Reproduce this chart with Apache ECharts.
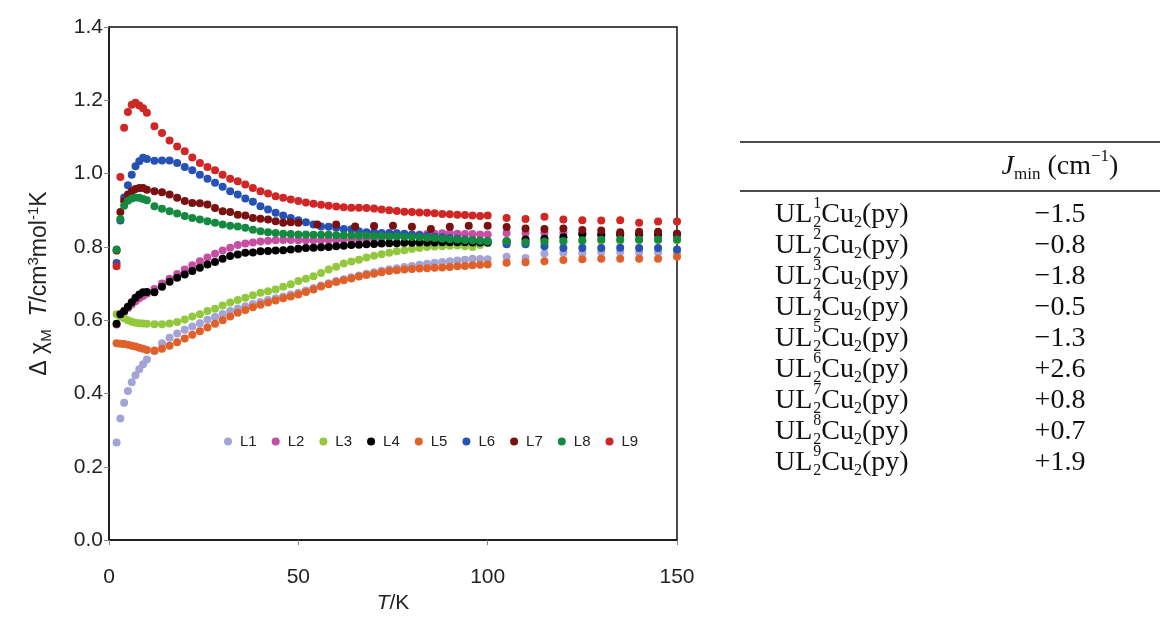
<!DOCTYPE html>
<html><head><meta charset="utf-8">
<script src="https://cdn.jsdelivr.net/npm/echarts@6/dist/echarts.min.js"></script>
<style>html,body{margin:0;padding:0;background:#fff}#c{width:1160px;height:619px}</style>
</head><body><div id="c"></div>
<script>
// Temperatures (K)
const temps = [2,3,4,5,6,7,8,9,10,
  12,14,16,18,20,22,24,26,28,30,
  32,34,36,38,40,42,44,46,48,50,
  52,54,56,58,60,62,64,66,68,70,
  72,74,76,78,80,82,84,86,88,90,
  92,94,96,98,100,
  105,110,115,120,125,130,135,140,145,150];
const temps7 = [2,3,4,5,6,7,8,9,10,
  12,14,16,18,20,22,24,26,28,30,
  32,34,36,38,40,42,44,46,48,50,
  55,60,65,70,75,80,85,90,95,100,
  105,110,115,120,125,130,135,140,145,150];

const L1 = [0.266,0.332,0.375,0.407,0.431,0.450,0.466,0.480,0.493,
  0.515,0.537,0.552,0.564,0.574,0.583,0.592,0.601,0.609,0.617,
  0.625,0.632,0.638,0.644,0.650,0.655,0.660,0.665,0.670,0.675,
  0.681,0.688,0.695,0.701,0.707,0.712,0.717,0.722,0.727,0.731,
  0.735,0.739,0.742,0.745,0.748,0.751,0.754,0.757,0.759,0.761,
  0.763,0.765,0.768,0.767,0.766,
  0.773,0.770,0.782,0.784,0.783,0.786,0.786,0.785,0.785,0.785];
const L2 = [0.588,0.614,0.622,0.633,0.643,0.652,0.660,0.666,0.672,
  0.685,0.700,0.713,0.726,0.738,0.750,0.761,0.771,0.781,0.790,
  0.798,0.805,0.809,0.812,0.815,0.817,0.818,0.819,0.819,0.818,
  0.818,0.818,0.818,0.819,0.819,0.820,0.820,0.821,0.822,0.823,
  0.825,0.826,0.828,0.830,0.832,0.834,0.835,0.836,0.837,0.837,
  0.836,0.835,0.835,0.834,0.834,
  0.838,0.838,0.838,0.838,0.835,0.832,0.832,0.832,0.830,0.830];
const L3 = [0.616,0.610,0.605,0.600,0.596,0.593,0.592,0.591,0.590,
  0.589,0.589,0.591,0.595,0.602,0.610,0.616,0.625,0.631,0.640,
  0.648,0.655,0.661,0.668,0.675,0.679,0.684,0.691,0.698,0.707,
  0.713,0.720,0.729,0.738,0.746,0.755,0.760,0.765,0.771,0.776,
  0.780,0.784,0.788,0.791,0.794,0.797,0.800,0.801,0.802,0.803,
  0.804,0.802,0.800,0.805,0.810,
  0.812,0.812,0.813,0.814,0.815,0.816,0.817,0.818,0.818,0.818];
const L4 = [0.590,0.616,0.625,0.637,0.649,0.661,0.670,0.676,0.677,
  0.676,0.691,0.705,0.716,0.725,0.734,0.743,0.752,0.759,0.768,
  0.775,0.779,0.784,0.785,0.788,0.789,0.790,0.791,0.793,0.795,
  0.797,0.798,0.799,0.800,0.802,0.803,0.805,0.806,0.807,0.808,
  0.809,0.810,0.810,0.811,0.811,0.812,0.812,0.812,0.813,0.813,
  0.813,0.813,0.812,0.812,0.812,
  0.815,0.820,0.822,0.826,0.835,0.834,0.835,0.836,0.836,0.835];
const L5 = [0.537,0.536,0.535,0.533,0.530,0.528,0.525,0.522,0.519,
  0.517,0.522,0.530,0.540,0.550,0.560,0.570,0.580,0.590,0.600,
  0.610,0.620,0.628,0.635,0.642,0.648,0.654,0.660,0.665,0.670,
  0.677,0.684,0.692,0.698,0.704,0.709,0.714,0.719,0.723,0.727,
  0.731,0.734,0.736,0.738,0.740,0.741,0.742,0.743,0.744,0.745,
  0.747,0.748,0.750,0.751,0.752,
  0.757,0.758,0.761,0.764,0.766,0.768,0.768,0.768,0.768,0.773];
const L6 = [0.756,0.872,0.935,0.968,0.997,1.020,1.034,1.043,1.040,
  1.035,1.036,1.036,1.029,1.018,1.009,0.997,0.986,0.975,0.964,
  0.952,0.943,0.932,0.923,0.911,0.902,0.893,0.886,0.879,0.873,
  0.867,0.861,0.856,0.855,0.852,0.849,0.848,0.843,0.840,0.840,
  0.838,0.838,0.837,0.836,0.834,0.832,0.830,0.828,0.826,0.824,
  0.822,0.820,0.818,0.817,0.815,
  0.807,0.807,0.802,0.797,0.797,0.797,0.798,0.797,0.797,0.793];
const L7 = [0.790,0.895,0.925,0.943,0.952,0.958,0.961,0.961,0.956,
  0.952,0.949,0.943,0.934,0.925,0.920,0.919,0.916,0.906,0.897,
  0.895,0.888,0.886,0.879,0.877,0.875,0.870,0.866,0.867,0.866,
  0.861,0.861,0.856,0.857,0.858,0.855,0.849,0.855,0.858,0.858,
  0.854,0.850,0.849,0.850,0.846,0.845,0.840,0.841,0.841,0.836];
const L8 = [0.793,0.876,0.912,0.926,0.932,0.935,0.934,0.931,0.927,
  0.911,0.904,0.897,0.891,0.884,0.879,0.875,0.870,0.866,0.861,
  0.858,0.856,0.852,0.847,0.843,0.840,0.838,0.836,0.835,0.834,
  0.834,0.833,0.833,0.833,0.832,0.832,0.832,0.831,0.831,0.830,
  0.830,0.829,0.829,0.828,0.827,0.826,0.825,0.824,0.822,0.821,
  0.820,0.819,0.818,0.817,0.816,
  0.816,0.813,0.815,0.816,0.818,0.820,0.820,0.820,0.820,0.820];
const L9 = [0.747,0.991,1.125,1.168,1.188,1.193,1.186,1.178,1.166,
  1.129,1.111,1.090,1.074,1.061,1.044,1.029,1.018,1.009,0.997,
  0.986,0.979,0.970,0.961,0.952,0.946,0.938,0.934,0.929,0.925,
  0.921,0.918,0.915,0.912,0.910,0.908,0.907,0.907,0.906,0.905,
  0.902,0.900,0.898,0.896,0.895,0.894,0.893,0.892,0.890,0.889,
  0.888,0.887,0.886,0.884,0.886,
  0.879,0.876,0.882,0.875,0.873,0.872,0.873,0.866,0.869,0.869];

const seriesNames = ['L1','L2','L3','L4','L5','L6','L7','L8','L9'];
const seriesColors = ['#a3a3d6','#c64fa4','#93c83e','#000000','#e0602a','#2552b4','#7a1010','#138a40','#d02626'];
const seriesValues = [L1,L2,L3,L4,L5,L6,L7,L8,L9];
const seriesTemps = [temps,temps,temps,temps,temps,temps,temps7,temps,temps];

// Table
const tableLigand = ['1','2','3','4','5','6','7','8','9'];
const tableJ = ['\u22121.5','\u22120.8','\u22121.8','\u22120.5','\u22121.3','+2.6','+0.8','+0.7','+1.9'];

const chart = echarts.init(document.getElementById('c'));
const SANS = '"Liberation Sans", Arial, sans-serif';
const SERIF = '"Liberation Serif", "Times New Roman", serif';

const ctx = document.createElement('canvas').getContext('2d');
function tw(text, size, italic) { ctx.font = (italic ? 'italic ' : '') + size + 'px ' + SERIF; return ctx.measureText(text).width; }
const graphics = [];
function txt(x, y, text, size, italic, align) {
  graphics.push({type: 'text', x: x, y: y, silent: true, style: {
    text: text, font: (italic ? 'italic ' : '') + size + 'px ' + SERIF,
    fill: '#111', align: align || 'left', verticalAlign: 'middle',
    textAlign: align || 'left', textVerticalAlign: 'middle'}});
}
const MAIN = 28, SMALL = 16;
// rules
[142, 191].forEach(function (y) {
  graphics.push({type: 'line', silent: true, shape: {x1: 740, y1: y, x2: 1160, y2: y}, style: {stroke: '#111', lineWidth: 1.5}});
});
// header
(function () {
  const yc = 167;
  const parts = [['J', MAIN, true, 0], ['min', SMALL + 1, false, 8], [' (cm', MAIN, false, 0], ['\u22121', SMALL + 1, false, -10], [')', MAIN, false, 0]];
  let W = 0; parts.forEach(function (p) { W += tw(p[0], p[1], p[2]); });
  let x = 1060 - W / 2;
  parts.forEach(function (p) { txt(x, yc + p[3], p[0], p[1], p[2]); x += tw(p[0], p[1], p[2]); });
})();
tableLigand.forEach(function (d, i) {
  const yc = 215 + 31 * i;
  let x = 775;
  txt(x, yc, 'UL', MAIN); x += tw('UL', MAIN) + 1;
  txt(x, yc - 11, d, SMALL); txt(x, yc + 8, '2', SMALL);
  x += Math.max(tw(d, SMALL), tw('2', SMALL));
  txt(x, yc, 'Cu', MAIN); x += tw('Cu', MAIN);
  txt(x, yc + 8, '2', SMALL); x += tw('2', SMALL);
  txt(x, yc, '(py)', MAIN);
  txt(1060, yc, tableJ[i], MAIN, false, 'center');
});

const series = seriesNames.map(function (n, k) {
  return {
    name: n, type: 'scatter', symbol: 'circle', symbolSize: 8,
    itemStyle: {color: seriesColors[k], opacity: 1},
    data: seriesTemps[k].map(function (t, j) { return [t, seriesValues[k][j]]; })
  };
});

chart.setOption({
  animation: false,
  backgroundColor: '#fff',
  grid: {left: 109, right: 483, top: 27, bottom: 78, show: true, borderColor: '#111', borderWidth: 1.5},
  legend: {
    data: seriesNames, icon: 'circle', itemWidth: 8, itemHeight: 8, itemGap: 15,
    left: 219, top: 429, textStyle: {fontFamily: SANS, fontSize: 15, color: '#222', padding: [0, 0, 0, 3]}
  },
  xAxis: {
    type: 'value', min: 0, max: 150, interval: 50,
    name: '{i|T}{a|/K}', nameLocation: 'middle', nameGap: 52,
    nameTextStyle: {rich: {
      i: {fontFamily: SANS, fontSize: 21, fontStyle: 'italic', color: '#222'},
      a: {fontFamily: SANS, fontSize: 21, color: '#222'}}},
    axisLine: {show: true, lineStyle: {color: '#111', width: 1.5}},
    axisTick: {show: true, length: 5, lineStyle: {color: '#888'}},
    axisLabel: {fontFamily: SANS, fontSize: 21, color: '#222', margin: 27},
    splitLine: {show: false}
  },
  yAxis: {
    type: 'value', min: 0, max: 1.4, interval: 0.2,
    name: '{a|\u0394 \u03c7}{s|M}{a|  }{i|T}{a|/cm}{p|3}{a|mol}{p|-1}{a|K}',
    nameLocation: 'middle', nameGap: 55,
    nameTextStyle: {rich: {
      a: {fontFamily: SANS, fontSize: 23, color: '#222', lineHeight: 28},
      i: {fontFamily: SANS, fontSize: 23, fontStyle: 'italic', color: '#222', lineHeight: 28},
      s: {fontFamily: SANS, fontSize: 15, color: '#222', verticalAlign: 'bottom', lineHeight: 16},
      p: {fontFamily: SANS, fontSize: 15, color: '#222', verticalAlign: 'top', lineHeight: 16}}},
    axisLine: {show: true, lineStyle: {color: '#111', width: 1.5}},
    axisTick: {show: true, length: 5, lineStyle: {color: '#888'}},
    axisLabel: {fontFamily: SANS, fontSize: 21, color: '#222', margin: 6,
      formatter: function (v) { return v.toFixed(1); }},
    splitLine: {show: false}
  },
  graphic: graphics,
  series: series
});
</script>
</body></html>
